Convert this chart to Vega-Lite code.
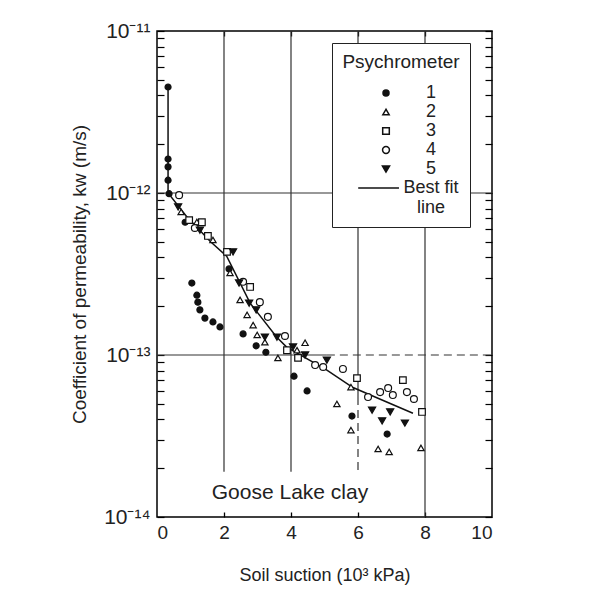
{
  "$schema": "https://vega.github.io/schema/vega-lite/v6.json",
  "width": 335,
  "height": 486,
  "autosize": "none",
  "padding": {"left": 157, "top": 31, "right": 106, "bottom": 75},
  "background": "white",
  "config": {
    "font": "Liberation Sans",
    "view": {"stroke": "black", "strokeWidth": 1.5},
    "axis": {"domain": false, "grid": false, "tickColor": "black", "labelColor": "#222", "titleColor": "#222", "titleFontWeight": "normal"}
  },
  "datasets": {
    "points": [
      {"suction": 0.33, "k": 4.51e-12, "psy": "1"},
      {"suction": 0.33, "k": 1.62e-12, "psy": "1"},
      {"suction": 0.33, "k": 1.45e-12, "psy": "1"},
      {"suction": 0.33, "k": 1.2e-12, "psy": "1"},
      {"suction": 0.36, "k": 9.9e-13, "psy": "1"},
      {"suction": 0.84, "k": 6.6e-13, "psy": "1"},
      {"suction": 1.04, "k": 2.78e-13, "psy": "1"},
      {"suction": 1.19, "k": 2.34e-13, "psy": "1"},
      {"suction": 1.22, "k": 2.12e-13, "psy": "1"},
      {"suction": 1.28, "k": 1.9e-13, "psy": "1"},
      {"suction": 1.43, "k": 1.69e-13, "psy": "1"},
      {"suction": 1.67, "k": 1.6e-13, "psy": "1"},
      {"suction": 1.88, "k": 1.49e-13, "psy": "1"},
      {"suction": 2.15, "k": 3.4e-13, "psy": "1"},
      {"suction": 2.57, "k": 1.35e-13, "psy": "1"},
      {"suction": 2.96, "k": 1.14e-13, "psy": "1"},
      {"suction": 3.25, "k": 1.04e-13, "psy": "1"},
      {"suction": 4.09, "k": 7.4e-14, "psy": "1"},
      {"suction": 4.48, "k": 6.0e-14, "psy": "1"},
      {"suction": 5.82, "k": 4.2e-14, "psy": "1"},
      {"suction": 6.87, "k": 3.25e-14, "psy": "1"},
      {"suction": 0.72, "k": 7.64e-13, "psy": "2"},
      {"suction": 1.19, "k": 6.62e-13, "psy": "2"},
      {"suction": 1.67, "k": 5.13e-13, "psy": "2"},
      {"suction": 2.18, "k": 3.21e-13, "psy": "2"},
      {"suction": 2.48, "k": 2.19e-13, "psy": "2"},
      {"suction": 2.69, "k": 1.77e-13, "psy": "2"},
      {"suction": 2.87, "k": 1.53e-13, "psy": "2"},
      {"suction": 2.99, "k": 1.33e-13, "psy": "2"},
      {"suction": 3.22, "k": 1.2e-13, "psy": "2"},
      {"suction": 3.61, "k": 9.6e-14, "psy": "2"},
      {"suction": 4.18, "k": 1.07e-13, "psy": "2"},
      {"suction": 4.42, "k": 1.19e-13, "psy": "2"},
      {"suction": 5.37, "k": 4.99e-14, "psy": "2"},
      {"suction": 5.79, "k": 6.34e-14, "psy": "2"},
      {"suction": 5.79, "k": 3.44e-14, "psy": "2"},
      {"suction": 6.6, "k": 2.63e-14, "psy": "2"},
      {"suction": 6.93, "k": 2.52e-14, "psy": "2"},
      {"suction": 7.88, "k": 2.67e-14, "psy": "2"},
      {"suction": 0.96, "k": 6.8e-13, "psy": "3"},
      {"suction": 1.34, "k": 6.6e-13, "psy": "3"},
      {"suction": 1.52, "k": 5.43e-13, "psy": "3"},
      {"suction": 2.09, "k": 4.33e-13, "psy": "3"},
      {"suction": 2.78, "k": 2.63e-13, "psy": "3"},
      {"suction": 3.88, "k": 1.07e-13, "psy": "3"},
      {"suction": 4.21, "k": 9.6e-14, "psy": "3"},
      {"suction": 5.97, "k": 7.2e-14, "psy": "3"},
      {"suction": 7.34, "k": 7.0e-14, "psy": "3"},
      {"suction": 7.91, "k": 4.45e-14, "psy": "3"},
      {"suction": 0.66, "k": 9.7e-13, "psy": "4"},
      {"suction": 1.13, "k": 6.08e-13, "psy": "4"},
      {"suction": 2.57, "k": 2.83e-13, "psy": "4"},
      {"suction": 3.07, "k": 2.12e-13, "psy": "4"},
      {"suction": 3.31, "k": 1.72e-13, "psy": "4"},
      {"suction": 3.82, "k": 1.31e-13, "psy": "4"},
      {"suction": 4.72, "k": 8.67e-14, "psy": "4"},
      {"suction": 4.96, "k": 8.43e-14, "psy": "4"},
      {"suction": 5.55, "k": 8.2e-14, "psy": "4"},
      {"suction": 6.3, "k": 5.5e-14, "psy": "4"},
      {"suction": 6.66, "k": 5.9e-14, "psy": "4"},
      {"suction": 6.9, "k": 6.25e-14, "psy": "4"},
      {"suction": 7.04, "k": 5.66e-14, "psy": "4"},
      {"suction": 7.46, "k": 5.9e-14, "psy": "4"},
      {"suction": 7.67, "k": 5.35e-14, "psy": "4"},
      {"suction": 0.63, "k": 8.2e-13, "psy": "5"},
      {"suction": 1.28, "k": 5.9e-13, "psy": "5"},
      {"suction": 2.27, "k": 4.33e-13, "psy": "5"},
      {"suction": 2.45, "k": 2.78e-13, "psy": "5"},
      {"suction": 2.75, "k": 2.09e-13, "psy": "5"},
      {"suction": 2.96, "k": 1.9e-13, "psy": "5"},
      {"suction": 3.22, "k": 1.29e-13, "psy": "5"},
      {"suction": 3.58, "k": 1.29e-13, "psy": "5"},
      {"suction": 4.06, "k": 1.12e-13, "psy": "5"},
      {"suction": 4.42, "k": 1.0e-13, "psy": "5"},
      {"suction": 5.07, "k": 9.3e-14, "psy": "5"},
      {"suction": 6.42, "k": 4.57e-14, "psy": "5"},
      {"suction": 6.72, "k": 3.92e-14, "psy": "5"},
      {"suction": 6.96, "k": 4.45e-14, "psy": "5"},
      {"suction": 7.4, "k": 3.8e-14, "psy": "5"}
    ],
    "fit": [
      {"suction": 0.33, "k": 4.5e-12, "order": 1},
      {"suction": 0.33, "k": 1.0e-12, "order": 2},
      {"suction": 0.9, "k": 7.1e-13, "order": 3},
      {"suction": 1.6, "k": 5.0e-13, "order": 4},
      {"suction": 2.08, "k": 4.07e-13, "order": 5},
      {"suction": 2.78, "k": 2.09e-13, "order": 6},
      {"suction": 3.57, "k": 1.29e-13, "order": 7},
      {"suction": 3.87, "k": 1.12e-13, "order": 8},
      {"suction": 5.06, "k": 8.1e-14, "order": 9},
      {"suction": 5.85, "k": 6.3e-14, "order": 10},
      {"suction": 7.64, "k": 4.37e-14, "order": 11}
    ],
    "vgrid": [
      {"gx": 2, "top": 1e-11, "bottom": 1.9e-14, "style": "solid"},
      {"gx": 4, "top": 1e-11, "bottom": 1.9e-14, "style": "solid"},
      {"gx": 6, "top": 1e-11, "bottom": 5.5e-14, "style": "solid"},
      {"gx": 6, "top": 5.5e-14, "bottom": 1.9e-14, "style": "dashed"},
      {"gx": 8, "top": 1e-11, "bottom": 1e-14, "style": "solid"}
    ],
    "hgrid": [
      {"gy": 1e-12, "left": 0, "right": 10, "style": "solid"},
      {"gy": 1e-13, "left": 0, "right": 5.07, "style": "solid"},
      {"gy": 1e-13, "left": 5.07, "right": 10, "style": "dashed"}
    ],
    "note": [
      {"suction": 3.97, "k": 1.41e-14, "label": "Goose Lake clay"}
    ]
  },
  "resolve": {"axis": {"x": "independent", "y": "independent"}},
  "layer": [
    {
      "data": {"name": "vgrid"},
      "mark": {"type": "rule", "color": "#333", "strokeWidth": 1.2},
      "encoding": {
        "x": {"field": "gx", "type": "quantitative", "scale": {"domain": [0, 10], "nice": false},
          "axis": {"orient": "bottom", "values": [2, 4, 6, 8], "labels": false, "title": null, "tickSize": 5, "offset": -5, "tickWidth": 1.3}},
        "y": {"field": "top", "type": "quantitative", "scale": {"type": "log", "domain": [1e-14, 1e-11], "nice": false}, "axis": null},
        "y2": {"field": "bottom"},
        "strokeDash": {"field": "style", "type": "nominal", "scale": {"domain": ["solid", "dashed"], "range": [[1, 0], [8, 5]]}, "legend": null}
      }
    },
    {
      "data": {"name": "hgrid"},
      "mark": {"type": "rule", "color": "#333", "strokeWidth": 1.2},
      "encoding": {
        "y": {"field": "gy", "type": "quantitative", "scale": {"type": "log", "domain": [1e-14, 1e-11], "nice": false},
          "axis": {"orient": "left", "labels": false, "title": null, "tickSize": 7, "offset": -7, "tickWidth": 1.2,
            "values": [1e-14, 2e-14, 3e-14, 4e-14, 5e-14, 6e-14, 7e-14, 8e-14, 9e-14, 1e-13, 2e-13, 3e-13, 4e-13, 5e-13, 6e-13, 7e-13, 8e-13, 9e-13, 1e-12, 2e-12, 3e-12, 4e-12, 5e-12, 6e-12, 7e-12, 8e-12, 9e-12, 1e-11]}},
        "x": {"field": "left", "type": "quantitative", "scale": {"domain": [0, 10], "nice": false}, "axis": null},
        "x2": {"field": "right"},
        "strokeDash": {"field": "style", "type": "nominal", "scale": {"domain": ["solid", "dashed"], "range": [[1, 0], [8, 5]]}, "legend": null}
      }
    },
    {
      "data": {"name": "fit"},
      "mark": {"type": "line", "color": "#111", "strokeWidth": 1.5},
      "encoding": {
        "x": {"field": "suction", "type": "quantitative", "scale": {"domain": [0, 10], "nice": false},
          "axis": {"orient": "top", "values": [2, 4, 6, 8], "labels": false, "title": null, "tickSize": 5, "offset": -5, "tickWidth": 1.3}},
        "y": {"field": "k", "type": "quantitative", "scale": {"type": "log", "domain": [1e-14, 1e-11], "nice": false},
          "axis": {"orient": "right", "labels": false, "title": null, "tickSize": 7, "offset": -7, "tickWidth": 1.2,
            "values": [1e-14, 2e-14, 3e-14, 4e-14, 5e-14, 6e-14, 7e-14, 8e-14, 9e-14, 1e-13, 2e-13, 3e-13, 4e-13, 5e-13, 6e-13, 7e-13, 8e-13, 9e-13, 1e-12, 2e-12, 3e-12, 4e-12, 5e-12, 6e-12, 7e-12, 8e-12, 9e-12, 1e-11]}},
        "order": {"field": "order", "type": "quantitative"}
      }
    },
    {
      "data": {"name": "points"},
      "mark": {"type": "point", "filled": true, "stroke": "#111", "strokeWidth": 1.2, "opacity": 1},
      "encoding": {
        "x": {"field": "suction", "type": "quantitative", "scale": {"domain": [0, 10], "nice": false},
          "axis": {"orient": "bottom", "values": [0, 2, 4, 6, 8, 10], "format": "d", "ticks": false, "labelPadding": 6, "labelFontSize": 19,
            "title": "Soil suction (10³ kPa)", "titleFontSize": 18, "titlePadding": 24}},
        "y": {"field": "k", "type": "quantitative", "scale": {"type": "log", "domain": [1e-14, 1e-11], "nice": false},
          "axis": {"orient": "left", "ticks": false, "labelPadding": 7, "labelFontSize": 21,
            "values": [1e-14, 2e-14, 3e-14, 4e-14, 5e-14, 6e-14, 7e-14, 8e-14, 9e-14, 1e-13, 2e-13, 3e-13, 4e-13, 5e-13, 6e-13, 7e-13, 8e-13, 9e-13, 1e-12, 2e-12, 3e-12, 4e-12, 5e-12, 6e-12, 7e-12, 8e-12, 9e-12, 1e-11],
            "labelExpr": "abs(datum.value / pow(10, round(log(datum.value) / LN10)) - 1) < 0.01 ? (round(log(datum.value) / LN10) == -11 ? '10⁻¹¹' : round(log(datum.value) / LN10) == -12 ? '10⁻¹²' : round(log(datum.value) / LN10) == -13 ? '10⁻¹³' : '10⁻¹⁴') : ''",
            "title": "Coefficient of permeability, kw (m/s)", "titleFontSize": 19, "titlePadding": 14}},
        "shape": {"field": "psy", "type": "nominal",
          "scale": {"domain": ["1", "2", "3", "4", "5", "Best fit line"], "range": ["circle", "triangle-up", "square", "circle", "triangle-down", "M-7.5,0H3.5"]},
          "legend": {"title": "Psychrometer", "orient": "none", "legendX": 175, "legendY": 12, "direction": "vertical",
            "strokeColor": "#222", "fillColor": "white", "padding": 10, "titleFontSize": 19, "titleFontWeight": "normal", "titleColor": "#222",
            "titleAnchor": "middle", "titlePadding": 12, "labelFontSize": 18, "labelColor": "#222", "labelAlign": "center", "labelOffset": 36,
            "symbolOffset": 33, "rowPadding": 1,
            "labelExpr": "datum.label == 'Best fit line' ? ['Best fit', 'line'] : datum.label",
            "encode": {"symbols": {"update": {"stroke": {"value": "#111"}, "strokeWidth": {"value": 1.3}, "size": {"value": 32}}}}}},
        "fill": {"field": "psy", "type": "nominal",
          "scale": {"domain": ["1", "2", "3", "4", "5", "Best fit line"], "range": ["#111", "white", "white", "white", "#111", "#111"]},
          "legend": {"title": "Psychrometer", "orient": "none", "legendX": 175, "legendY": 12, "direction": "vertical",
            "strokeColor": "#222", "fillColor": "white", "padding": 10, "titleFontSize": 19, "titleFontWeight": "normal", "titleColor": "#222",
            "titleAnchor": "middle", "titlePadding": 12, "labelFontSize": 18, "labelColor": "#222", "labelAlign": "center", "labelOffset": 36,
            "symbolOffset": 33, "rowPadding": 1,
            "labelExpr": "datum.label == 'Best fit line' ? ['Best fit', 'line'] : datum.label",
            "encode": {"symbols": {"update": {"stroke": {"value": "#111"}, "strokeWidth": {"value": 1.3}, "size": {"value": 32}}}}}},
        "size": {"field": "psy", "type": "nominal",
          "scale": {"domain": ["1", "2", "3", "4", "5", "Best fit line"], "range": [36, 55, 42, 40, 55, 40]},
          "legend": {"title": "Psychrometer", "orient": "none", "legendX": 175, "legendY": 12, "direction": "vertical",
            "strokeColor": "#222", "fillColor": "white", "padding": 10, "titleFontSize": 19, "titleFontWeight": "normal", "titleColor": "#222",
            "titleAnchor": "middle", "titlePadding": 12, "labelFontSize": 18, "labelColor": "#222", "labelAlign": "center", "labelOffset": 36,
            "symbolOffset": 33, "rowPadding": 1,
            "labelExpr": "datum.label == 'Best fit line' ? ['Best fit', 'line'] : datum.label",
            "encode": {"symbols": {"update": {"stroke": {"value": "#111"}, "strokeWidth": {"value": 1.3}, "size": {"value": 32}}}}}}
      }
    },
    {
      "data": {"name": "note"},
      "mark": {"type": "text", "fontSize": 21, "color": "#222", "align": "center", "baseline": "middle"},
      "encoding": {
        "x": {"field": "suction", "type": "quantitative", "scale": {"domain": [0, 10], "nice": false}, "axis": null},
        "y": {"field": "k", "type": "quantitative", "scale": {"type": "log", "domain": [1e-14, 1e-11], "nice": false}, "axis": null},
        "text": {"field": "label"}
      }
    }
  ]
}
